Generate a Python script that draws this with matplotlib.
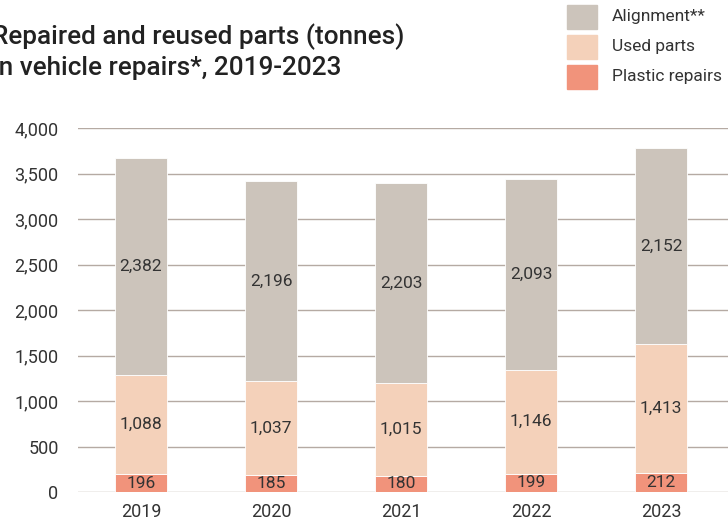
import matplotlib.pyplot as plt
from matplotlib.font_manager import fontManager
import numpy as np

years = ["2019", "2020", "2021", "2022", "2023"]
plastic = [196, 185, 180, 199, 212]
used = [1088, 1037, 1015, 1146, 1413]
alignment = [2382, 2196, 2203, 2093, 2152]

series_names = ["Alignment**", "Used parts", "Plastic repairs"]
colors = {"Alignment**": "#ccc4bb", "Used parts": "#f4d1ba", "Plastic repairs": "#f1937b"}

names = {f.name for f in fontManager.ttflist}
font = "Liberation Sans Narrow" if "Liberation Sans Narrow" in names else "Roboto"
plt.rcParams["font.family"] = [font, "DejaVu Sans"]

fig = plt.figure(figsize=(7.28, 5.28), dpi=100)
ax = fig.add_axes([78 / 728, 36 / 528, 1 - 78 / 728, 364 / 528])

x = np.arange(len(years))
w = 0.4
bottom = np.zeros(len(years))
for name, vals in [("Plastic repairs", plastic), ("Used parts", used), ("Alignment**", alignment)]:
    vals = np.array(vals)
    ax.bar(x, vals, w, bottom=bottom, color=colors[name], zorder=3,
           edgecolor="white", linewidth=0.6)
    for xi, b, v in zip(x, bottom, vals):
        ax.text(xi, b + v / 2, f"{v:,}", ha="center", va="center",
                fontsize=12.5, color="#333333", zorder=4)
    bottom += vals

ax.set_xlim(-0.485, 4.515)
ax.set_ylim(0, 4000)
ax.set_yticks(range(0, 4001, 500))
ax.set_yticklabels([f"{v:,}" for v in range(0, 4001, 500)])
ax.set_xticks(x)
ax.set_xticklabels(years)
ax.grid(axis="y", color="#b5aaa3", linewidth=1, zorder=0)
ax.set_axisbelow(True)
for s in ax.spines.values():
    s.set_visible(False)
ax.tick_params(length=0, labelsize=13, colors="#333333")
ax.tick_params(axis="y", pad=14)
ax.tick_params(axis="x", pad=8)

fig.text(-8 / 728, 1 - 52 / 528, "Repaired and reused parts (tonnes)\nin vehicle repairs*, 2019-2023",
         fontsize=18.8, fontweight="medium", color="#222222", va="center", ha="left",
         linespacing=1.3)

# legend
leg_y = [17, 47, 77]
for name, yy in zip(series_names, leg_y):
    fig.patches.append(plt.Rectangle((567 / 728, 1 - (yy + 12) / 528), 30 / 728, 24 / 528,
                                     transform=fig.transFigure, color=colors[name]))
    fig.text(612 / 728, 1 - yy / 528, name, fontsize=12.5, color="#333333",
             va="center", ha="left")

fig.savefig("out.png", dpi=100)
